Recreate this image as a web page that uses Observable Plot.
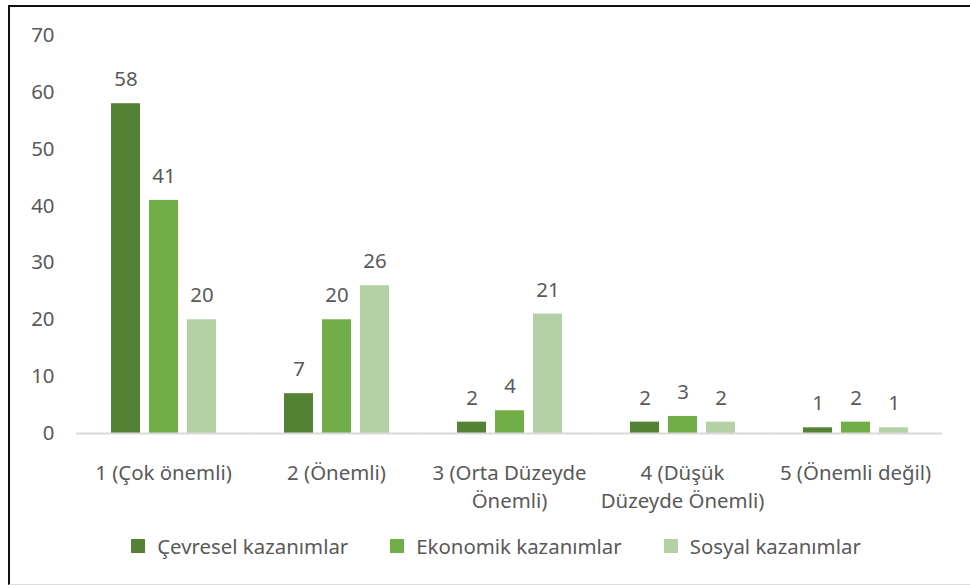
<!DOCTYPE html>
<html>
<head>
<meta charset="utf-8">
<script src="https://cdn.jsdelivr.net/npm/d3@7"></script>
<script src="https://cdn.jsdelivr.net/npm/@observablehq/plot@0.6"></script>
<style>
  html, body { margin: 0; padding: 0; background: #fff; }
  #wrap { position: relative; width: 970px; height: 585px; overflow: hidden; font-family: "Noto Sans", sans-serif; }
  #chart { position: absolute; left: 0; top: 0; }
  #border { position: absolute; left: 8px; top: 5px; width: 970px; height: 577px;
            border-left: 2px solid #111; border-top: 2px solid #111; border-bottom: 1px solid #ddd; pointer-events: none; }
  #legend { position: absolute; left: 0; top: 530px; width: 992px; height: 32px;
            display: flex; justify-content: center; align-items: center; color: #595959; font-size: 20.4px; }
  .item { display: flex; align-items: center; margin: 0 21px; }
  .sw { width: 14px; height: 14px; margin-right: 12px; }
</style>
</head>
<body>
<div id="wrap">
  <div id="chart"></div>
  <div id="legend"></div>
  <div id="border"></div>
</div>
<script>
const categories = ["1 (Çok önemli)", "2 (Önemli)", "3 (Orta Düzeyde\nÖnemli)", "4 (Düşük\nDüzeyde Önemli)", "5 (Önemli değil)"];
const series = ["Çevresel kazanımlar", "Ekonomik kazanımlar", "Sosyal kazanımlar"];
const cevresel = [58, 7, 2, 2, 1];
const ekonomik = [41, 20, 4, 3, 2];
const sosyal = [20, 26, 21, 2, 1];
const yTicks = [0, 10, 20, 30, 40, 50, 60, 70];
const colors = ["#548235", "#70ad47", "#b3d1a4"];

const seriesValues = [cevresel, ekonomik, sosyal];
const data = [];
categories.forEach((c, i) => {
  series.forEach((s, j) => data.push({category: c, series: s, value: seriesValues[j][i]}));
});

const plot = Plot.plot({
  width: 970,
  height: 515,
  marginLeft: 75,
  marginRight: 27,
  marginTop: 35,
  marginBottom: 82,
  style: {fontFamily: "Noto Sans, sans-serif", fontSize: "20.4px", color: "#595959", background: "transparent"},
  fx: {domain: categories, paddingInner: 0.39, paddingOuter: 0.195, label: null},
  x: {domain: series, paddingInner: 0.24, paddingOuter: 0, axis: null},
  y: {domain: [0, 70], label: null, axis: null},
  color: {domain: series, range: colors},
  marks: [
    Plot.axisY({ticks: yTicks, tickSize: 0, tickPadding: 56, label: null, fontSize: 20.4}),
    Plot.axisFx({anchor: "bottom", tickSize: 0, tickPadding: 26, label: null, lineHeight: 1.4, fontSize: 20.4}),
    Plot.barY(data, {fx: "category", x: "series", y: "value", fill: "series"}),
    Plot.ruleY([0], {stroke: "#d9d9d9", strokeWidth: 2, insetLeft: -34, insetRight: -34}),
    Plot.text(data, {fx: "category", x: "series", y: "value", text: "value", dy: -24, fill: "#595959", fontSize: 20.4})
  ]
});
document.getElementById("chart").appendChild(plot);

const legend = document.getElementById("legend");
series.forEach((s, j) => {
  const item = document.createElement("div");
  item.className = "item";
  const sw = document.createElement("span");
  sw.className = "sw";
  sw.style.background = colors[j];
  const t = document.createElement("span");
  t.textContent = s;
  item.appendChild(sw);
  item.appendChild(t);
  legend.appendChild(item);
});
</script>
</body>
</html>
